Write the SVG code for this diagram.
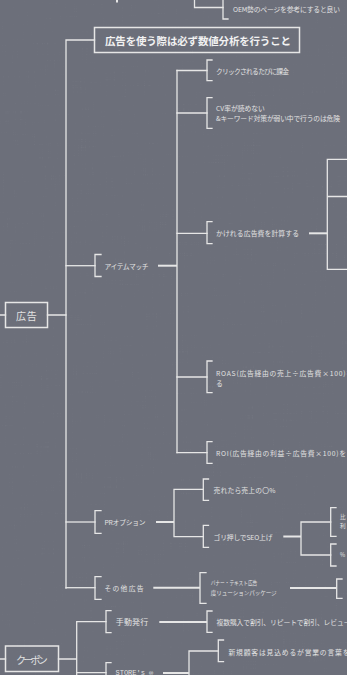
<svg xmlns="http://www.w3.org/2000/svg" width="347" height="675" viewBox="0 0 347 675">
<defs>
<filter id="linen" x="0" y="0" width="100%" height="100%">
<feTurbulence type="fractalNoise" baseFrequency="0.9 0.03" numOctaves="2" seed="3" result="v"/>
<feTurbulence type="fractalNoise" baseFrequency="0.03 0.9" numOctaves="2" seed="7" result="h"/>
<feBlend in="v" in2="h" mode="multiply" result="n"/>
<feColorMatrix in="n" type="matrix" values="0 0 0 0 1  0 0 0 0 1  0 0 0 0 1  0 0 0 -0.9 0.55"/>
</filter>
<style>
.ln{fill:none;stroke:#e6e6e6;stroke-width:1.3;stroke-linecap:square}
.th{fill:none;stroke:#e6e6e6;stroke-width:2}
.box{fill:none;stroke:#e6e6e6;stroke-width:1.5}
.t{font-family:"Noto Sans CJK JP","Noto Sans",sans-serif;fill:#e2e2e2;font-size:6.8px;dominant-baseline:central}
.s{font-size:5.6px}
.m{font-size:8px}
.b{font-size:10px}
.title{font-family:"Noto Sans CJK JP","Noto Sans",sans-serif;fill:#f2f2f2;font-size:10.5px;font-weight:bold;dominant-baseline:central}
</style>
</defs>
<rect width="347" height="675" fill="#6c6f7a"/>
<rect width="347" height="675" fill="#fff" filter="url(#linen)" opacity="0.14"/>

<g id="connectors">
<path class="th" d="M117 0V2.5"/>
<path class="ln" d="M194.5 0V7.5H223"/>
<path class="ln" d="M94.5 40H66V588"/>
<path class="ln" d="M0 315H5.5M47.5 315H66"/>
<path class="ln" d="M66 265.7H95"/>
<path class="th" d="M158 265.7H177"/>
<path class="ln" d="M177 70.5V452.7"/>
<path class="ln" d="M177 70.5H207M177 113H207M177 233.3H207M177 377H207M177 452.7H207"/>
<path class="th" d="M309 233.3H327.3"/>
<path class="ln" d="M347 159.3H327.3V269.3H347M327.3 196.5H347"/>
<path class="ln" d="M66 522H95"/>
<path class="th" d="M156 522H174"/>
<path class="ln" d="M174 489.3V536.7M174 489.3H203.3M174 536.7H203.3"/>
<path class="th" d="M283.3 536.5H301"/>
<path class="ln" d="M301 522V555M301 522H330.7M301 555H330.7"/>
<path class="ln" d="M66 587.7H95"/>
<path class="th" d="M153.3 587.7H200"/>
<path class="th" d="M290 588H336.7"/>
<path class="ln" d="M0 659H5.5M58.5 659H76.7M76.7 621.7V675M76.7 621.7H106M76.7 672.7H106"/>
<path class="th" d="M159.3 622H207"/>
<path class="th" d="M163 673H189"/>
<path class="ln" d="M189 651V675M189 651H218.3"/>
</g>

<g id="n-oem"><path class="ln" d="M228 -4H223V19H228"/><text class="t" x="233" y="9" textLength="107" lengthAdjust="spacing">OEM勢のページを参考にすると良い</text></g>

<g id="n-title"><rect class="box" x="94.5" y="27.5" width="205" height="25"/><text class="title" x="105" y="40.5" textLength="186" lengthAdjust="spacing">広告を使う際は必ず数値分析を行うこと</text></g>

<g id="n-ad"><rect class="box" x="5.5" y="302.5" width="42" height="25"/><text class="t b" x="16" y="315" textLength="20.7" lengthAdjust="spacing">広告</text></g>

<g id="n-item"><path class="ln" d="M101 254.5H95V276.5H101"/><text class="t" x="104.5" y="266" textLength="44" lengthAdjust="spacing">アイテムマッチ</text></g>

<g id="n-click"><path class="ln" d="M212 60H207V80.7H212"/><text class="t" x="216" y="71" textLength="73" lengthAdjust="spacing">クリックされるたびに課金</text></g>

<g id="n-cv"><path class="ln" d="M212 97.7H207V128.3H212"/><text class="t" x="216" y="108.3" textLength="48.7" lengthAdjust="spacing">CV率が読めない</text><text class="t" x="216" y="118.3" textLength="124" lengthAdjust="spacing">&amp;キーワード対策が弱い中で行うのは危険</text></g>

<g id="n-budget"><path class="ln" d="M212 221.7H207V243.7H212"/><text class="t" x="216" y="233.3" textLength="83" lengthAdjust="spacing">かけれる広告費を計算する</text></g>

<g id="n-roas"><path class="ln" d="M212 361H207V392.7H212"/><text class="t" x="216" y="373.3" textLength="137" lengthAdjust="spacing">ROAS(広告経由の売上÷広告費×100)を</text><text class="t" x="216" y="383.3">る</text></g>

<g id="n-roi"><path class="ln" d="M212 441.7H207V463.3H212"/><text class="t" x="216" y="452.7" textLength="130" lengthAdjust="spacing">ROI(広告経由の利益÷広告費×100)を</text></g>

<g id="n-pr"><path class="ln" d="M101 510.7H95V533.3H101"/><text class="t" x="104.5" y="522" textLength="41" lengthAdjust="spacing">PRオプション</text></g>

<g id="n-sold"><path class="ln" d="M208.5 479H203.3V500.3H208.5"/><text class="t" x="213.5" y="489.5" textLength="62" lengthAdjust="spacing">売れたら売上の〇%</text></g>

<g id="n-seo"><path class="ln" d="M208.5 525.3H203.3V547.3H208.5"/><text class="t" x="213.5" y="536.5" textLength="59" lengthAdjust="spacing">ゴリ押しでSEO上げ</text></g>

<g id="n-hi"><path class="ln" d="M336 507.7H330.7V536.3H336"/><text class="t s" x="340" y="517">比</text><text class="t s" x="340" y="526">利</text></g>

<g id="n-pct"><path class="ln" d="M336 544H330.7V566H336"/><text class="t s" x="340" y="555">%</text></g>

<g id="n-other"><path class="ln" d="M101 576.7H95V599.3H101"/><text class="t" x="104.5" y="588" textLength="39" lengthAdjust="spacing">その他広告</text></g>

<g id="n-banner"><path class="ln" d="M206 572.7H200V603.3H206"/><text class="t s" x="210.7" y="583.3" textLength="46.6" lengthAdjust="spacingAndGlyphs">バナー・テキスト広告</text><text class="t s" x="210.7" y="592.7" textLength="66" lengthAdjust="spacing">度リューションパッケージ</text></g>

<g id="n-banner-child"><path class="ln" d="M342 579H336.7V598.3H342"/></g>

<g id="n-coupon"><rect class="box" x="5.5" y="646" width="53" height="25.5"/><text class="t b" x="16" y="659" textLength="31.7" lengthAdjust="spacing">クーポン</text></g>

<g id="n-manual"><path class="ln" d="M111 610.7H106V632.7H111"/><text class="t m" x="115.7" y="621.7" textLength="32.6" lengthAdjust="spacing">手動発行</text></g>

<g id="n-multi"><path class="ln" d="M212 611H207V632.3H212"/><text class="t" x="216.5" y="622" textLength="134" lengthAdjust="spacing">複数購入で割引、リピートで割引、レビュー</text></g>

<g id="n-store"><path class="ln" d="M111 662.7H106V690"/><text class="t" x="115.5" y="673" font-family="'Liberation Mono',monospace" style="font-family:'Liberation Mono',monospace;font-size:7px">STORE's ∞</text></g>

<g id="n-new"><path class="ln" d="M223.5 640H218.3V661.7H223.5"/><text class="t" x="228.5" y="651.7" textLength="121" lengthAdjust="spacing">新規顧客は見込めるが営業の言葉を</text></g>
</svg>
